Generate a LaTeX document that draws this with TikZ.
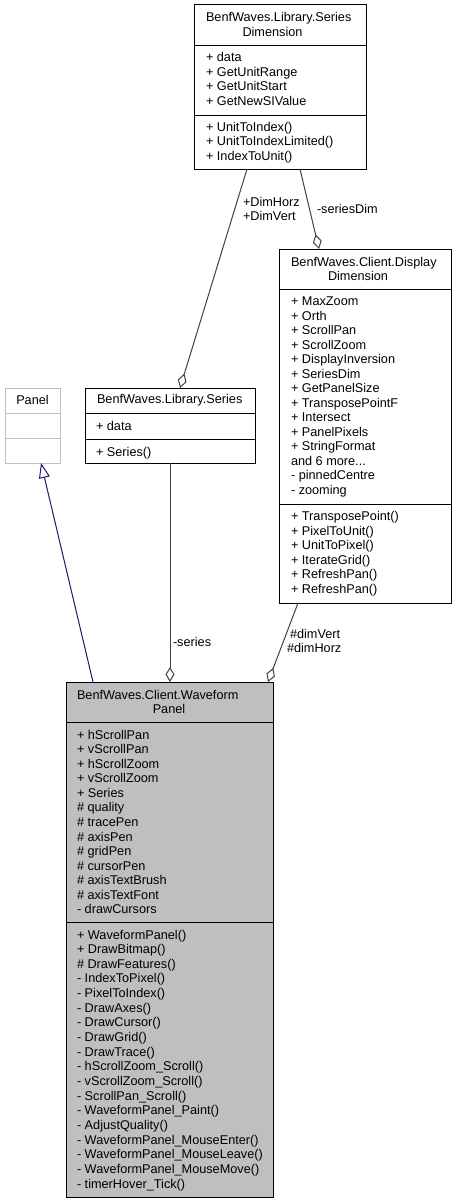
\documentclass[tikz,border=0pt]{standalone}
\usepackage{fontspec}
\setmainfont{Liberation Sans}
\usetikzlibrary{arrows.meta,calc}
\definecolor{edgegray}{HTML}{404040}
\definecolor{boxgray}{HTML}{BFBFBF}
\definecolor{inhblue}{HTML}{191970}
\begin{document}
\begin{tikzpicture}[x=1pt,y=-1pt,
  txt/.style={anchor=base west,inner sep=0pt,outer sep=0pt,font=\fontsize{12.7}{14.5}\selectfont},
  ctxt/.style={txt,anchor=base},
  cls/.style={draw=black,line width=1pt,fill=white,inner sep=0pt,outer sep=0pt,anchor=north west},
  extcls/.style={cls,draw=boxgray},
  focuscls/.style={cls,fill=boxgray},
  divider/.style={line width=1pt},
  assoc/.style={draw=edgegray,line width=1pt,-{Diamond[open,length=15pt,width=9pt]}},
  inherit/.style={draw=inhblue,line width=1pt,-{Triangle[open,length=15pt,width=11pt]}}
]
\useasboundingbox (0,0) rectangle (455,1204);

% ---------- boxes ----------
\node[cls,minimum width=172pt,minimum height=164pt] (sd) at (194,5) {};
\node[cls,minimum width=170pt,minimum height=75pt] (series) at (85,388) {};
\node[extcls,minimum width=55pt,minimum height=75pt] (panel) at (5,388) {};
\node[cls,minimum width=172pt,minimum height=354pt] (dd) at (279,249) {};
\node[focuscls,minimum width=207pt,minimum height=515pt] (wf) at (66,682) {};

% ---------- dividers ----------
\draw[divider] (sd.west |- 0,46) -- (sd.east |- 0,46);
\draw[divider] (sd.west |- 0,116) -- (sd.east |- 0,116);
\draw[divider] (series.west |- 0,413) -- (series.east |- 0,413);
\draw[divider] (series.west |- 0,439) -- (series.east |- 0,439);
\draw[divider,draw=boxgray] (panel.west |- 0,413) -- (panel.east |- 0,413);
\draw[divider,draw=boxgray] (panel.west |- 0,438) -- (panel.east |- 0,438);
\draw[divider] (dd.west |- 0,289) -- (dd.east |- 0,289);
\draw[divider] (dd.west |- 0,504) -- (dd.east |- 0,504);
\draw[divider] (wf.west |- 0,722) -- (wf.east |- 0,722);
\draw[divider] (wf.west |- 0,922) -- (wf.east |- 0,922);

% ---------- SeriesDimension ----------
\node[txt] (sd-t1) at (206,22) {BenfWaves.Library.Series};
\node[ctxt] (sd-t2) at (272.5,36.5) {Dimension};
\foreach \t [count=\i from 0] in {+ data,+ GetUnitRange,+ GetUnitStart,+ GetNewSIValue}
  \node[txt] (sd-a\i) at (206,{62+\i*14.5}) {\t};
\foreach \t [count=\i from 0] in {+ UnitToIndex(),+ UnitToIndexLimited(),+ IndexToUnit()}
  \node[txt] (sd-m\i) at (206,{131.5+\i*14.5}) {\t};

% ---------- Series ----------
\node[txt] (se-t1) at (97,403.5) {BenfWaves.Library.Series};
\node[txt] (se-a0) at (96,430) {+ data};
\node[txt] (se-m0) at (96,456.5) {+ Series()};

% ---------- Panel ----------
\node[ctxt] (pa-t1) at (32.5,404) {Panel};

% ---------- DisplayDimension ----------
\node[txt] (dd-t1) at (291,266) {BenfWaves.Client.Display};
\node[ctxt] (dd-t2) at (358,280.5) {Dimension};
\foreach \t [count=\i from 0] in {+ MaxZoom,+ Orth,+ ScrollPan,+ ScrollZoom,+ DisplayInversion,+ SeriesDim,+ GetPanelSize,+ TransposePointF,+ Intersect,+ PanelPixels,+ StringFormat,and 6 more.\kern0pt.\kern0pt.,- pinnedCentre,- zooming}
  \node[txt] (dd-a\i) at (291,{305.5+\i*14.5}) {\t};
\foreach \t [count=\i from 0] in {+ TransposePoint(),+ PixelToUnit(),+ UnitToPixel(),+ IterateGrid(),+ RefreshPan(),+ RefreshPan()}
  \node[txt] (dd-m\i) at (291,{520.5+\i*14.5}) {\t};

% ---------- WaveformPanel ----------
\node[txt] (wf-t1) at (77,699) {BenfWaves.Client.Waveform};
\node[ctxt] (wf-t2) at (169,713.5) {Panel};
\foreach \t [count=\i from 0] in {+ hScrollPan,+ vScrollPan,+ hScrollZoom,+ vScrollZoom,+ Series,\# quality,\# tracePen,\# axisPen,\# gridPen,\# cursorPen,\# axisTextBrush,\# axisTextFont,- drawCursors}
  \node[txt] (wf-a\i) at (77,{739+\i*14.58}) {\t};
\foreach \t [count=\i from 0] in {+ WaveformPanel(),+ DrawBitmap(),\# DrawFeatures(),- IndexToPixel(),- PixelToIndex(),- DrawAxes(),- DrawCursor(),- DrawGrid(),- DrawTrace(),- hScrollZoom\_Scroll(),- vScrollZoom\_Scroll(),- ScrollPan\_Scroll(),- WaveformPanel\_Paint(),- AdjustQuality(),- WaveformPanel\_MouseEnter(),- WaveformPanel\_MouseLeave(),- WaveformPanel\_MouseMove(),- timerHover\_Tick()}
  \node[txt] (wf-m\i) at (77,{939+\i*14.65}) {\t};

% ---------- connectors ----------
\draw[assoc] ([xshift=-33pt]sd.south) -- ([xshift=10pt]series.north);
\draw[assoc] ([xshift=20pt]sd.south) -- ([xshift=-46pt]dd.north);
\draw[assoc] (series.south) -- (series.south |- wf.north);
\draw[assoc] ([xshift=-67pt]dd.south) -- ([xshift=98.5pt]wf.north);
\draw[inherit] ([xshift=-76.5pt]wf.north) -- ([xshift=8.5pt]panel.south);

% ---------- connector labels ----------
\node[txt] (l1a) at (243,206.5) {+DimHorz};
\node[txt] (l1b) at (243,220) {+DimVert};
\node[txt] (l2) at (317,213) {-seriesDim};
\node[txt] (l3) at (173,646) {-series};
\node[txt] (l4a) at (290,638) {\#dimVert};
\node[txt] (l4b) at (287,652) {\#dimHorz};
\end{tikzpicture}
\end{document}
